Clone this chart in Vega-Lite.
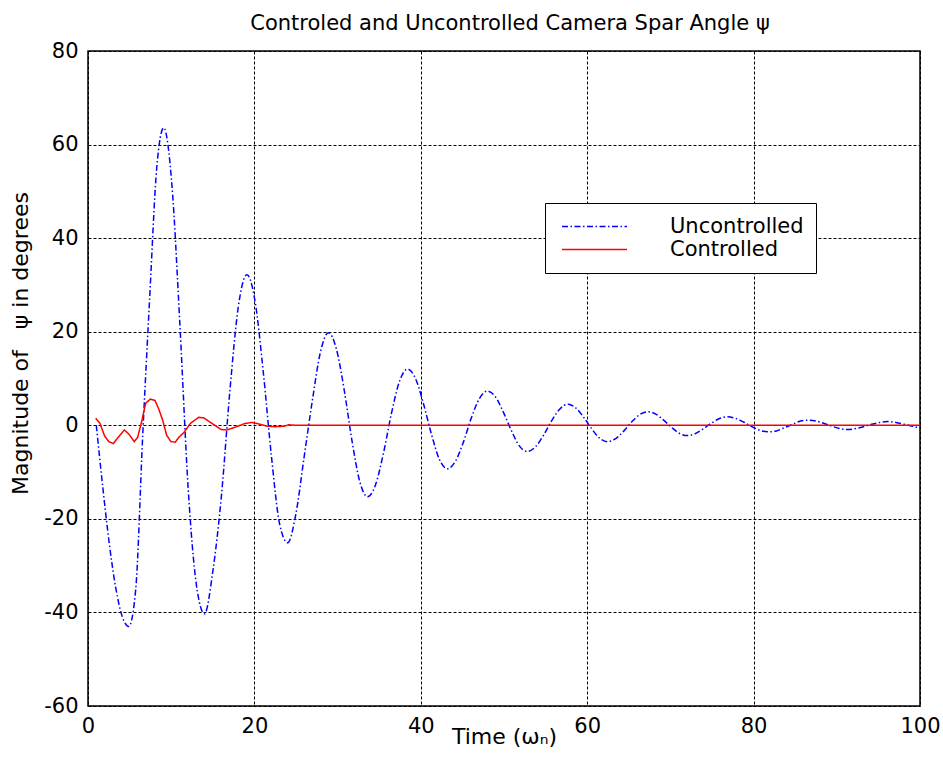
{
  "$schema": "https://vega.github.io/schema/vega-lite/v6.json",
  "width": 832,
  "height": 655,
  "autosize": {"type": "none"},
  "padding": {"left": 88, "top": 51, "right": 23, "bottom": 74},
  "background": "white",
  "title": {
    "text": "Controled and Uncontrolled Camera Spar Angle ψ",
    "font": "DejaVu Sans",
    "fontSize": 21,
    "fontWeight": "normal",
    "color": "black",
    "anchor": "middle",
    "frame": "group",
    "baseline": "alphabetic",
    "offset": 21,
    "dy": 32,
    "dx": 6
  },
  "config": {
    "view": {"stroke": "black", "strokeWidth": 1.5},
    "axis": {
      "domain": false,
      "ticks": false,
      "grid": true,
      "gridColor": "black",
      "gridOpacity": 1,
      "gridDash": [3, 2],
      "gridWidth": 1,
      "labelFont": "DejaVu Sans",
      "labelFontSize": 21,
      "labelColor": "black",
      "labelFlush": false,
      "labelExpr": "'' + datum.value",
      "titleFont": "DejaVu Sans",
      "titleFontSize": 22,
      "titleFontWeight": "normal",
      "titleColor": "black"
    },
    "legend": {
      "orient": "none",
      "legendX": 457,
      "legendY": 152,
      "strokeColor": "black",
      "fillColor": "white",
      "padding": 12,
      "clipHeight": 23,
      "rowPadding": 0,
      "symbolType": "stroke",
      "symbolSize": 4225,
      "symbolStrokeWidth": 1.5,
      "symbolOffset": 4,
      "labelFont": "DejaVu Sans",
      "labelFontSize": 21,
      "labelColor": "black",
      "labelOffset": 42
    }
  },
  "datasets": {
    "response": [
      {"t": 1.0, "psi": 0, "series": "Uncontrolled"},
      {"t": 1.78, "psi": -13.3, "series": "Uncontrolled"},
      {"t": 2.56, "psi": -25.3, "series": "Uncontrolled"},
      {"t": 3.34, "psi": -34.8, "series": "Uncontrolled"},
      {"t": 4.12, "psi": -40.9, "series": "Uncontrolled"},
      {"t": 4.9, "psi": -43.0, "series": "Uncontrolled"},
      {"t": 5.74, "psi": -35.0, "series": "Uncontrolled"},
      {"t": 6.58, "psi": -2.0, "series": "Uncontrolled"},
      {"t": 7.42, "psi": 27.5, "series": "Uncontrolled"},
      {"t": 8.26, "psi": 55.0, "series": "Uncontrolled"},
      {"t": 9.1, "psi": 63.6, "series": "Uncontrolled"},
      {"t": 10.08, "psi": 51.5, "series": "Uncontrolled"},
      {"t": 11.06, "psi": 21.0, "series": "Uncontrolled"},
      {"t": 12.04, "psi": -13.5, "series": "Uncontrolled"},
      {"t": 13.02, "psi": -34.0, "series": "Uncontrolled"},
      {"t": 14.0, "psi": -40.3, "series": "Uncontrolled"},
      {"t": 15.02, "psi": -31.0, "series": "Uncontrolled"},
      {"t": 16.04, "psi": -15.0, "series": "Uncontrolled"},
      {"t": 17.06, "psi": 7.5, "series": "Uncontrolled"},
      {"t": 18.08, "psi": 25.5, "series": "Uncontrolled"},
      {"t": 19.1, "psi": 32.2, "series": "Uncontrolled"},
      {"t": 20.08, "psi": 26.5, "series": "Uncontrolled"},
      {"t": 21.06, "psi": 11.5, "series": "Uncontrolled"},
      {"t": 22.04, "psi": -6.5, "series": "Uncontrolled"},
      {"t": 23.02, "psi": -21.0, "series": "Uncontrolled"},
      {"t": 24.0, "psi": -25.1, "series": "Uncontrolled"},
      {"t": 24.98, "psi": -19.0, "series": "Uncontrolled"},
      {"t": 25.96, "psi": -7.0, "series": "Uncontrolled"},
      {"t": 26.94, "psi": 5.0, "series": "Uncontrolled"},
      {"t": 27.92, "psi": 15.5, "series": "Uncontrolled"},
      {"t": 28.9, "psi": 19.8, "series": "Uncontrolled"},
      {"t": 29.84, "psi": 16.4, "series": "Uncontrolled"},
      {"t": 30.78, "psi": 7.7, "series": "Uncontrolled"},
      {"t": 31.72, "psi": -3.2, "series": "Uncontrolled"},
      {"t": 32.66, "psi": -12.0, "series": "Uncontrolled"},
      {"t": 33.6, "psi": -15.3, "series": "Uncontrolled"},
      {"t": 34.56, "psi": -12.7, "series": "Uncontrolled"},
      {"t": 35.52, "psi": -5.9, "series": "Uncontrolled"},
      {"t": 36.48, "psi": 2.6, "series": "Uncontrolled"},
      {"t": 37.44, "psi": 9.4, "series": "Uncontrolled"},
      {"t": 38.4, "psi": 12.0, "series": "Uncontrolled"},
      {"t": 39.36, "psi": 10.0, "series": "Uncontrolled"},
      {"t": 40.32, "psi": 4.6, "series": "Uncontrolled"},
      {"t": 41.28, "psi": -1.9, "series": "Uncontrolled"},
      {"t": 42.24, "psi": -7.3, "series": "Uncontrolled"},
      {"t": 43.2, "psi": -9.3, "series": "Uncontrolled"},
      {"t": 44.16, "psi": -7.7, "series": "Uncontrolled"},
      {"t": 45.12, "psi": -3.6, "series": "Uncontrolled"},
      {"t": 46.08, "psi": 1.6, "series": "Uncontrolled"},
      {"t": 47.04, "psi": 5.7, "series": "Uncontrolled"},
      {"t": 48.0, "psi": 7.3, "series": "Uncontrolled"},
      {"t": 48.96, "psi": 6.1, "series": "Uncontrolled"},
      {"t": 49.92, "psi": 2.8, "series": "Uncontrolled"},
      {"t": 50.88, "psi": -1.1, "series": "Uncontrolled"},
      {"t": 51.84, "psi": -4.4, "series": "Uncontrolled"},
      {"t": 52.8, "psi": -5.6, "series": "Uncontrolled"},
      {"t": 53.78, "psi": -4.6, "series": "Uncontrolled"},
      {"t": 54.76, "psi": -2.1, "series": "Uncontrolled"},
      {"t": 55.74, "psi": 1.0, "series": "Uncontrolled"},
      {"t": 56.72, "psi": 3.5, "series": "Uncontrolled"},
      {"t": 57.7, "psi": 4.5, "series": "Uncontrolled"},
      {"t": 58.64, "psi": 3.7, "series": "Uncontrolled"},
      {"t": 59.58, "psi": 1.7, "series": "Uncontrolled"},
      {"t": 60.52, "psi": -0.7, "series": "Uncontrolled"},
      {"t": 61.46, "psi": -2.7, "series": "Uncontrolled"},
      {"t": 62.4, "psi": -3.5, "series": "Uncontrolled"},
      {"t": 63.38, "psi": -2.9, "series": "Uncontrolled"},
      {"t": 64.36, "psi": -1.3, "series": "Uncontrolled"},
      {"t": 65.34, "psi": 0.7, "series": "Uncontrolled"},
      {"t": 66.32, "psi": 2.3, "series": "Uncontrolled"},
      {"t": 67.3, "psi": 2.9, "series": "Uncontrolled"},
      {"t": 68.24, "psi": 2.4, "series": "Uncontrolled"},
      {"t": 69.18, "psi": 1.1, "series": "Uncontrolled"},
      {"t": 70.12, "psi": -0.4, "series": "Uncontrolled"},
      {"t": 71.06, "psi": -1.7, "series": "Uncontrolled"},
      {"t": 72.0, "psi": -2.2, "series": "Uncontrolled"},
      {"t": 72.96, "psi": -1.8, "series": "Uncontrolled"},
      {"t": 73.92, "psi": -0.8, "series": "Uncontrolled"},
      {"t": 74.88, "psi": 0.4, "series": "Uncontrolled"},
      {"t": 75.84, "psi": 1.4, "series": "Uncontrolled"},
      {"t": 76.8, "psi": 1.8, "series": "Uncontrolled"},
      {"t": 77.8, "psi": 1.5, "series": "Uncontrolled"},
      {"t": 78.8, "psi": 0.7, "series": "Uncontrolled"},
      {"t": 79.8, "psi": -0.3, "series": "Uncontrolled"},
      {"t": 80.8, "psi": -1.1, "series": "Uncontrolled"},
      {"t": 81.8, "psi": -1.4, "series": "Uncontrolled"},
      {"t": 82.76, "psi": -1.2, "series": "Uncontrolled"},
      {"t": 83.72, "psi": -0.5, "series": "Uncontrolled"},
      {"t": 84.68, "psi": 0.2, "series": "Uncontrolled"},
      {"t": 85.64, "psi": 0.9, "series": "Uncontrolled"},
      {"t": 86.6, "psi": 1.1, "series": "Uncontrolled"},
      {"t": 87.54, "psi": 0.9, "series": "Uncontrolled"},
      {"t": 88.48, "psi": 0.4, "series": "Uncontrolled"},
      {"t": 89.42, "psi": -0.2, "series": "Uncontrolled"},
      {"t": 90.36, "psi": -0.7, "series": "Uncontrolled"},
      {"t": 91.3, "psi": -0.9, "series": "Uncontrolled"},
      {"t": 92.26, "psi": -0.7, "series": "Uncontrolled"},
      {"t": 93.22, "psi": -0.3, "series": "Uncontrolled"},
      {"t": 94.18, "psi": 0.2, "series": "Uncontrolled"},
      {"t": 95.14, "psi": 0.6, "series": "Uncontrolled"},
      {"t": 96.1, "psi": 0.8, "series": "Uncontrolled"},
      {"t": 97.1, "psi": 0.6, "series": "Uncontrolled"},
      {"t": 98.1, "psi": 0.2, "series": "Uncontrolled"},
      {"t": 99.1, "psi": -0.2, "series": "Uncontrolled"},
      {"t": 100.0, "psi": -0.6, "series": "Uncontrolled"},
      {"t": 0.92, "psi": 1.5, "series": "Controlled"},
      {"t": 1.44, "psi": 0.4, "series": "Controlled"},
      {"t": 2.0, "psi": -2.3, "series": "Controlled"},
      {"t": 2.5, "psi": -3.5, "series": "Controlled"},
      {"t": 3.04, "psi": -3.9, "series": "Controlled"},
      {"t": 3.44, "psi": -3.0, "series": "Controlled"},
      {"t": 3.9, "psi": -2.0, "series": "Controlled"},
      {"t": 4.36, "psi": -1.0, "series": "Controlled"},
      {"t": 4.92, "psi": -1.9, "series": "Controlled"},
      {"t": 5.56, "psi": -3.5, "series": "Controlled"},
      {"t": 5.96, "psi": -2.6, "series": "Controlled"},
      {"t": 6.45, "psi": 0.8, "series": "Controlled"},
      {"t": 6.93, "psi": 4.7, "series": "Controlled"},
      {"t": 7.5, "psi": 5.6, "series": "Controlled"},
      {"t": 8.05, "psi": 5.3, "series": "Controlled"},
      {"t": 8.5, "psi": 3.5, "series": "Controlled"},
      {"t": 8.97, "psi": 1.1, "series": "Controlled"},
      {"t": 9.45, "psi": -2.1, "series": "Controlled"},
      {"t": 9.97, "psi": -3.5, "series": "Controlled"},
      {"t": 10.5, "psi": -3.6, "series": "Controlled"},
      {"t": 10.9, "psi": -2.6, "series": "Controlled"},
      {"t": 11.6, "psi": -1.4, "series": "Controlled"},
      {"t": 12.3, "psi": 0.4, "series": "Controlled"},
      {"t": 13.3, "psi": 1.7, "series": "Controlled"},
      {"t": 13.9, "psi": 1.6, "series": "Controlled"},
      {"t": 14.9, "psi": 0.4, "series": "Controlled"},
      {"t": 16.0, "psi": -0.9, "series": "Controlled"},
      {"t": 16.7, "psi": -1.0, "series": "Controlled"},
      {"t": 17.7, "psi": -0.4, "series": "Controlled"},
      {"t": 18.9, "psi": 0.4, "series": "Controlled"},
      {"t": 19.7, "psi": 0.6, "series": "Controlled"},
      {"t": 20.5, "psi": 0.3, "series": "Controlled"},
      {"t": 21.5, "psi": -0.2, "series": "Controlled"},
      {"t": 22.5, "psi": -0.3, "series": "Controlled"},
      {"t": 23.5, "psi": -0.2, "series": "Controlled"},
      {"t": 24.1, "psi": 0.1, "series": "Controlled"},
      {"t": 25.0, "psi": 0.0, "series": "Controlled"},
      {"t": 40.0, "psi": 0.0, "series": "Controlled"},
      {"t": 60.0, "psi": 0.0, "series": "Controlled"},
      {"t": 80.0, "psi": 0.0, "series": "Controlled"},
      {"t": 100.0, "psi": 0.0, "series": "Controlled"}
    ]
  },
  "data": {"name": "response"},
  "encoding": {
    "x": {
      "field": "t",
      "type": "quantitative",
      "scale": {"domain": [0, 100], "nice": false, "zero": false},
      "axis": {
        "values": [0, 20, 40, 60, 80, 100],
        "title": "Time (ωₙ)",
        "labelPadding": 9,
        "titleBaseline": "alphabetic",
        "titleY": 37
      }
    },
    "y": {
      "field": "psi",
      "type": "quantitative",
      "scale": {"domain": [-60, 80], "nice": false, "zero": false},
      "axis": {
        "values": [-60, -40, -20, 0, 20, 40, 60, 80],
        "title": "Magnitude of \u00a0\u00a0ψ in degrees",
        "labelPadding": 10,
        "titleBaseline": "alphabetic",
        "titleX": -61,
        "titleY": 292
      }
    },
    "color": {
      "field": "series",
      "type": "nominal",
      "scale": {"domain": ["Uncontrolled", "Controlled"], "range": ["#0000ff", "#ff0000"]},
      "legend": {"title": null}
    },
    "strokeDash": {
      "field": "series",
      "type": "nominal",
      "scale": {"domain": ["Uncontrolled", "Controlled"], "range": [[6, 2.5, 1.5, 2.5], [1, 0]]},
      "legend": {"title": null}
    }
  },
  "layer": [
    {
      "transform": [{"filter": "datum.series === 'Uncontrolled'"}],
      "mark": {"type": "line", "strokeWidth": 1.5, "interpolate": "monotone", "clip": true}
    },
    {
      "transform": [{"filter": "datum.series === 'Controlled'"}],
      "mark": {"type": "line", "strokeWidth": 1.5, "interpolate": "linear", "clip": true}
    }
  ]
}
